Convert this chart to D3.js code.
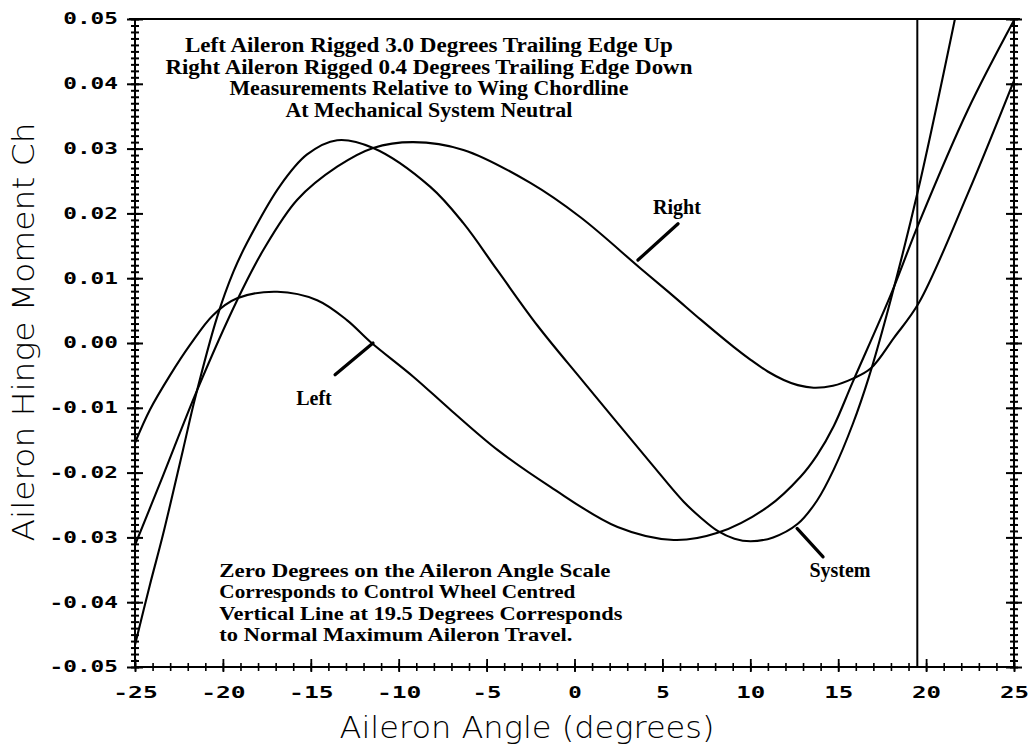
<!DOCTYPE html>
<html><head><meta charset="utf-8">
<script src="https://cdn.jsdelivr.net/npm/d3@7"></script>
<style>body{margin:0;background:#fff}svg{display:block}</style>
</head><body>
<svg id="chart" width="1030" height="744"></svg>
<script>
// ---- data ----
const leftAngle = [-25, -24.15, -23.01, -21.87, -20.56, -19.19, -16.91, -14.64, -12.93, -11.62, -9.17, -7.06, -4.38, -1.37, 2.45, 5.64, 8.14, 10.99, 12.87, 13.8, 14.75, 15.83, 18.0, 19.59, 22.38, 25];
const leftCh = [-0.0154, -0.0103, -0.0050, -0.0003, 0.0043, 0.0069, 0.0079, 0.0066, 0.0035, 0.0002, -0.0052, -0.0103, -0.0165, -0.0222, -0.0284, -0.0304, -0.0293, -0.0253, -0.0206, -0.0173, -0.0128, -0.0060, 0.0075, 0.0185, 0.0360, 0.0498];

const rightAngle = [-25, -23.41, -21.47, -19.19, -17.71, -15.77, -13.5, -11.45, -9.17, -6.32, -2.51, 0.34, 3.76, 5.64, 7.18, 9.05, 10.02, 10.99, 11.9, 12.7, 13.6, 14.7, 15.83, 16.86, 18.17, 19.59, 22.38, 25];
const rightCh = [-0.0312, -0.0205, -0.0073, 0.0066, 0.0143, 0.0221, 0.0272, 0.0301, 0.0310, 0.0298, 0.0247, 0.0194, 0.0115, 0.0072, 0.0036, -0.0006, -0.0026, -0.0044, -0.0057, -0.0065, -0.0069, -0.0066, -0.0055, -0.0039, 0.0008, 0.0062, 0.0231, 0.0405];

const systemAngle = [-25, -24.15, -23.41, -22.27, -21.58, -20.33, -19.4, -18.62, -16.74, -15.21, -13.5, -11.45, -8.2, -6.32, -4.38, -2.11, 0.51, 4.33, 6.21, 7.2, 8.14, 9.1, 10.02, 11.3, 12.7, 13.8, 14.75, 15.83, 16.74, 18.0, 19.59, 21.64];
const systemCh = [-0.0466, -0.0373, -0.0296, -0.0165, -0.0085, 0.0040, 0.0110, 0.0155, 0.0243, 0.0291, 0.0313, 0.0301, 0.0241, 0.0185, 0.0112, 0.0027, -0.0060, -0.0185, -0.0245, -0.0270, -0.0290, -0.0302, -0.0306, -0.0300, -0.0279, -0.0243, -0.0195, -0.0125, -0.0053, 0.0068, 0.0241, 0.0500];

const xTickValues = [-25, -20, -15, -10, -5, 0, 5, 10, 15, 20, 25];
const xTickLabels = ["-25", "-20", "-15", "-10", "-5", "0", "5", "10", "15", "20", "25"];
const yTickValues = [0.05, 0.04, 0.03, 0.02, 0.01, 0, -0.01, -0.02, -0.03, -0.04, -0.05];
const yTickLabels = ["0.05", "0.04", "0.03", "0.02", "0.01", "0.00", "-0.01", "-0.02", "-0.03", "-0.04", "-0.05"];

const maxTravel = 19.5;
const xTitle = "Aileron Angle (degrees)";
const yTitle = "Aileron Hinge Moment Ch";
const noteTop = ["Left Aileron Rigged 3.0 Degrees Trailing Edge Up",
                 "Right Aileron Rigged 0.4 Degrees Trailing Edge Down",
                 "Measurements Relative to Wing Chordline",
                 "At Mechanical System Neutral"];
const noteBottom = ["Zero Degrees on the Aileron Angle Scale",
                    "Corresponds to Control Wheel Centred",
                    "Vertical Line at 19.5 Degrees Corresponds",
                    "to Normal Maximum Aileron Travel."];
const seriesNames = ["Left", "Right", "System"];

// ---- layout / style ----
const svg = d3.select("#chart");
const x = d3.scaleLinear().domain([-25, 25]).range([135, 1014]);
const y = d3.scaleLinear().domain([-0.05, 0.05]).range([667, 19]);
const ink = "#000";

svg.append("defs").append("clipPath").attr("id", "plot")
  .append("rect").attr("x", x(-25)).attr("y", y(0.05))
  .attr("width", x(25) - x(-25)).attr("height", y(-0.05) - y(0.05));

// frame lines
const frame = svg.append("g").attr("stroke", ink).attr("stroke-width", 2).attr("fill", "none");
frame.append("line").attr("x1", x(-25) - 6).attr("x2", x(25) + 6).attr("y1", y(0.05)).attr("y2", y(0.05));
frame.append("line").attr("x1", x(-25)).attr("x2", x(-25)).attr("y1", y(0.05)).attr("y2", y(-0.05));
frame.append("line").attr("x1", x(25)).attr("x2", x(25)).attr("y1", y(0.05)).attr("y2", y(-0.05));
frame.append("line").attr("x1", x(-25)).attr("x2", x(25)).attr("y1", y(-0.05)).attr("y2", y(-0.05));

function styleAxis(g) {
  g.select(".domain").remove();
  g.selectAll(".tick line").attr("stroke", ink);
}

const minorY = y.ticks(100);
svg.append("g").attr("transform", `translate(${x(-25)},0)`)
  .call(d3.axisLeft(y).tickValues(minorY).tickSize(4).tickFormat(""))
  .call(styleAxis)
  .call(g => g.selectAll(".tick line").attr("x1", 4).attr("stroke-width", 2));
svg.append("g").attr("transform", `translate(${x(-25)},0)`)
  .call(d3.axisLeft(y).tickValues(yTickValues).tickSize(8).tickPadding(9)
        .tickFormat((d, i) => yTickLabels[i]))
  .call(styleAxis)
  .call(g => g.selectAll(".tick line").attr("x1", 8).attr("stroke-width", 2))
  .call(g => g.selectAll(".tick text")
        .attr("font-family", "'DejaVu Sans Mono', monospace").attr("font-weight", "bold")
        .attr("font-size", 15).attr("fill", ink)
        .attr("textLength", (d, i) => yTickLabels[i].length * 13.7)
        .attr("lengthAdjust", "spacingAndGlyphs"));

svg.append("g").attr("transform", `translate(${x(25)},0)`)
  .call(d3.axisRight(y).tickValues(minorY).tickSize(4).tickFormat(""))
  .call(styleAxis)
  .call(g => g.selectAll(".tick line").attr("x1", -4).attr("stroke-width", 2));
svg.append("g").attr("transform", `translate(${x(25)},0)`)
  .call(d3.axisRight(y).tickValues(yTickValues).tickSize(8).tickFormat(""))
  .call(styleAxis)
  .call(g => g.selectAll(".tick line").attr("x1", -8).attr("stroke-width", 2));

const minorX = x.ticks(50);
svg.append("g").attr("transform", `translate(0,${y(-0.05)})`)
  .call(d3.axisBottom(x).tickValues(minorX).tickSize(4).tickFormat(""))
  .call(styleAxis)
  .call(g => g.selectAll(".tick line").attr("y1", -4).attr("stroke-width", 1.6));
svg.append("g").attr("transform", `translate(0,${y(-0.05)})`)
  .call(d3.axisBottom(x).tickValues(xTickValues).tickSize(5).tickPadding(15)
        .tickFormat((d, i) => xTickLabels[i]))
  .call(styleAxis)
  .call(g => g.selectAll(".tick line").attr("y1", -8).attr("stroke-width", 1.8))
  .call(g => g.selectAll(".tick text")
        .attr("font-family", "'DejaVu Sans Mono', monospace").attr("font-weight", "bold")
        .attr("font-size", 15).attr("fill", ink)
        .attr("textLength", (d, i) => xTickLabels[i].length * 15.5 - 2)
        .attr("lengthAdjust", "spacingAndGlyphs"));

// vertical line at max travel
svg.append("line").attr("x1", x(maxTravel)).attr("x2", x(maxTravel))
  .attr("y1", y(0.05)).attr("y2", y(-0.05))
  .attr("stroke", ink).attr("stroke-width", 2);

// curves
const line = d3.line().x(d => x(d[0])).y(d => y(d[1])).curve(d3.curveCatmullRom.alpha(0.5));
const series = [
  d3.zip(leftAngle, leftCh),
  d3.zip(rightAngle, rightCh),
  d3.zip(systemAngle, systemCh)
];
svg.append("g").attr("clip-path", "url(#plot)")
  .selectAll("path").data(series).join("path")
  .attr("d", line).attr("fill", "none").attr("stroke", ink)
  .attr("stroke-width", 2.1).attr("stroke-linejoin", "round");

// series labels with pointers (data coordinates)
const labelAt = [[-14.82, -0.0096], [5.83, 0.0199], [15.1, -0.0361]];
const pointerFrom = [[-13.62, -0.0049], [3.61, 0.0128], [12.66, -0.0286]];
const pointerTo = [[-11.46, 0.0000], [5.89, 0.0184], [14.14, -0.0330]];
const labelG = svg.append("g");
seriesNames.forEach((name, i) => {
  labelG.append("text").attr("x", x(labelAt[i][0])).attr("y", y(labelAt[i][1]))
    .attr("text-anchor", "middle").attr("font-family", "'Liberation Serif', serif")
    .attr("font-weight", "bold").attr("font-size", 20).attr("fill", ink).text(name);
  labelG.append("line")
    .attr("x1", x(pointerFrom[i][0])).attr("y1", y(pointerFrom[i][1]))
    .attr("x2", x(pointerTo[i][0])).attr("y2", y(pointerTo[i][1]))
    .attr("stroke", ink).attr("stroke-width", 3.2).attr("stroke-linecap", "round");
});

// notes
const noteTopWidths = [488, 527, 399, 287];
svg.append("g").selectAll("text").data(noteTop).join("text")
  .attr("x", x(-8.28)).attr("y", (d, i) => y(0.0449) + i * 21.6)
  .attr("text-anchor", "middle").attr("font-family", "'Liberation Serif', serif")
  .attr("font-weight", "bold").attr("font-size", 20).attr("fill", ink)
  .attr("textLength", (d, i) => noteTopWidths[i]).attr("lengthAdjust", "spacingAndGlyphs")
  .text(d => d);
const noteBottomWidths = [391, 356, 403, 353];
svg.append("g").selectAll("text").data(noteBottom).join("text")
  .attr("x", x(-20.2)).attr("y", (d, i) => y(-0.0361) + i * 21.3)
  .attr("font-family", "'Liberation Serif', serif")
  .attr("font-weight", "bold").attr("font-size", 19).attr("fill", ink)
  .attr("textLength", (d, i) => noteBottomWidths[i]).attr("lengthAdjust", "spacingAndGlyphs")
  .text(d => d);

// axis titles
svg.append("text").attr("x", 527).attr("y", 738).attr("text-anchor", "middle")
  .attr("font-family", "'DejaVu Sans', sans-serif").attr("font-weight", 200)
  .attr("font-size", 30).attr("fill", ink)
  .attr("textLength", 375).attr("lengthAdjust", "spacingAndGlyphs").text(xTitle);
svg.append("text").attr("transform", "translate(34,332) rotate(-90)")
  .attr("text-anchor", "middle")
  .attr("font-family", "'DejaVu Sans', sans-serif").attr("font-weight", 200)
  .attr("font-size", 30).attr("fill", ink)
  .attr("textLength", 419).attr("lengthAdjust", "spacingAndGlyphs").text(yTitle);
</script>
</body></html>
